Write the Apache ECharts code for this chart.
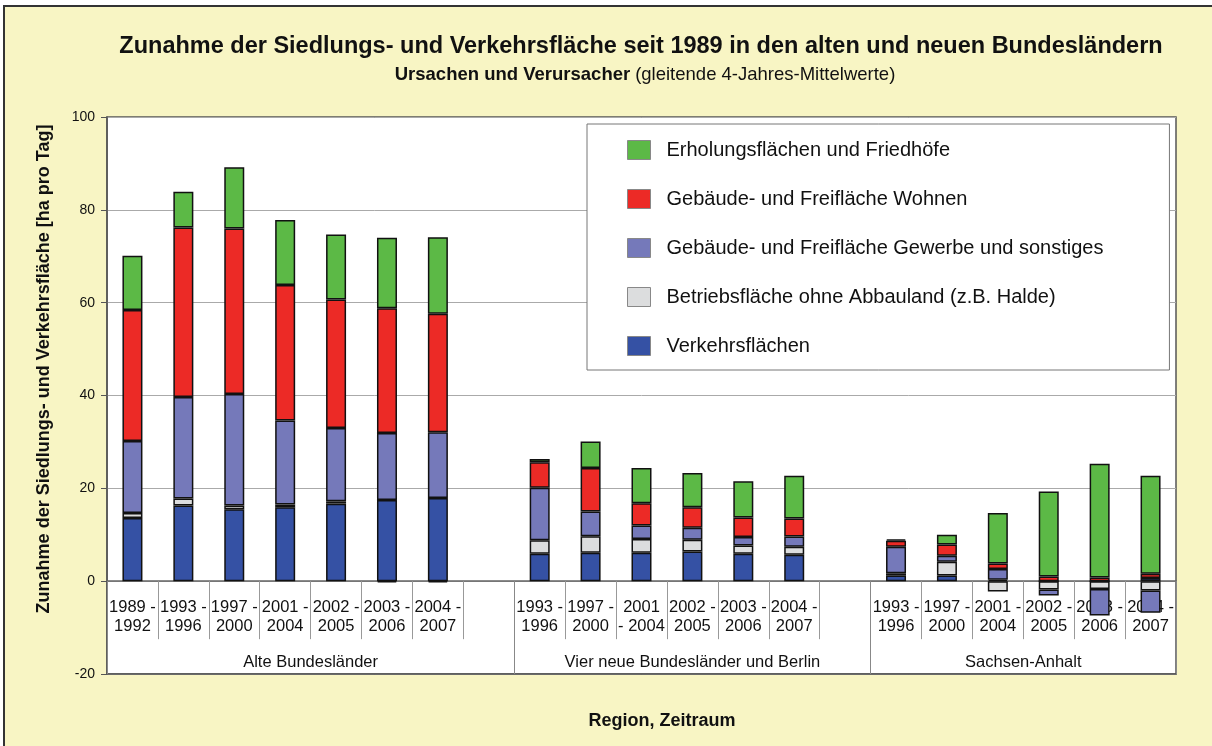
<!DOCTYPE html>
<html>
<head>
<meta charset="utf-8">
<script src="https://cdn.jsdelivr.net/npm/echarts@6/dist/echarts.min.js"></script>
<style>
  html, body { margin: 0; padding: 0; background: #fff; }
  #frame {
    position: absolute; left: 3px; top: 5px; width: 1209px; height: 741px;
    border-left: 2px solid #333; border-top: 2px solid #333;
    box-sizing: border-box; background: #f8f5c4;
  }
  #chart { width: 1207px; height: 739px; }
</style>
</head>
<body>
<div id="frame"><div id="chart"></div></div>
<script>
// Zeiträume je Region ('' = Lücke zwischen den Gruppen)
const categories = [
  '1989 -\n1992', '1993 -\n1996', '1997 -\n2000', '2001 -\n2004', '2002 -\n2005', '2003 -\n2006', '2004 -\n2007', '',
  '1993 -\n1996', '1997 -\n2000', '2001\n- 2004', '2002 -\n2005', '2003 -\n2006', '2004 -\n2007', '',
  '1993 -\n1996', '1997 -\n2000', '2001 -\n2004', '2002 -\n2005', '2003 -\n2006', '2004 -\n2007'
]
const groupNames = ['Alte Bundesländer', 'Vier neue Bundesländer und Berlin', 'Sachsen-Anhalt']
const groupSizes = [8, 7, 6]
const yTicks = { min: -20, max: 100, step: 20 }

// ha pro Tag
const verkehr = [13.6, 16.3, 15.5, 15.9, 16.7, 17.5, 17.9, null, 5.9, 6.1, 6.1, 6.4, 5.9, 5.7, null, 1.2, 1.2, 0.3, 0, 0, 0.7]
const betrieb = [1.1, 1.5, 0.8, 0.6, 0.5, -0.3, -0.3, null, 2.9, 3.6, 3.0, 2.5, 1.8, 1.7, null, 0.5, 3.0, -2.2, -1.8, -1.7, -2.0]
const gewerbe = [15.5, 21.9, 24.0, 18.1, 15.8, 14.4, 14.2, null, 11.3, 5.3, 2.9, 2.6, 1.8, 2.2, null, 5.7, 1.3, 2.3, -1.3, -5.7, -4.8]
const wohnen = [28.2, 36.5, 35.7, 29.2, 27.7, 26.9, 25.5, null, 5.5, 9.4, 4.8, 4.4, 4.2, 3.9, null, 1.3, 2.4, 1.2, 1.0, 0.8, 0.9]
const erholung = [11.7, 7.7, 13.2, 14.0, 14.0, 15.2, 16.5, null, 0.7, 5.7, 7.6, 7.4, 7.8, 9.2, null, 0.3, 2.1, 10.9, 18.3, 24.5, 21.1]

// Gruppenachse in halben Kategorien (Grenzen und Mitten)
const halfCount = categories.length * 2 + 1
const groupAxis = new Array(halfCount).fill('')
const groupEdges = [0]
let start = 0
groupSizes.forEach((n, i) => {
  groupAxis[start * 2 + n] = groupNames[i]
  start += n
  groupEdges.push(start * 2)
})

const font = 'Arial, "Liberation Sans", sans-serif'
const border = { borderColor: '#111', borderWidth: 1.5 }

const gridBox = { left: 102, top: 110, right: 36, bottom: 72 }
const chartHeight = 739
const plotHeight = chartHeight - gridBox.top - gridBox.bottom
// Kategorieachse auf die Nulllinie schieben
const zeroOffset = -plotHeight * (0 - yTicks.min) / (yTicks.max - yTicks.min)

function bar(name, data, color) {
  return {
    name: name,
    type: 'bar',
    stack: 'total',
    data: data,
    barWidth: 20,
    itemStyle: Object.assign({ color: color }, border)
  }
}

const myChart = echarts.init(document.getElementById('chart'))
const option = {
  animation: false,
  textStyle: { fontFamily: font, color: '#111' },
  title: [
    {
      text: 'Zunahme der Siedlungs- und Verkehrsfläche seit 1989 in den alten und neuen Bundesländern',
      left: 636, top: 28, textAlign: 'center', padding: 0,
      textStyle: { fontSize: 23.5, fontWeight: 'bold', fontFamily: font, color: '#111' }
    },
    {
      text: '{b|Ursachen und Verursacher} {n|(gleitende 4-Jahres-Mittelwerte)}',
      left: 640, top: 58, textAlign: 'center', padding: 0,
      textStyle: {
        fontFamily: font,
        fontWeight: 'normal',
        rich: {
          b: { fontSize: 18.5, fontWeight: 'bold', fontFamily: font, color: '#111' },
          n: { fontSize: 18.5, fontWeight: 'normal', fontFamily: font, color: '#111' }
        }
      }
    },
    {
      text: 'Region, Zeitraum',
      left: 657, top: 705, textAlign: 'center', padding: 0,
      textStyle: { fontSize: 18, fontWeight: 'bold', fontFamily: font, color: '#111' }
    }
  ],
  graphic: [{
    type: 'text',
    x: 39, y: 362,
    rotation: Math.PI / 2,
    style: {
      text: 'Zunahme der Siedlungs- und Verkehrsfläche [ha pro Tag]',
      font: 'bold 18px ' + font,
      fill: '#111',
      align: 'center',
      verticalAlign: 'middle'
    }
  }],
  legend: {
    orient: 'vertical',
    left: 582, top: 117,
    data: ['Erholungsflächen und Friedhöfe', 'Gebäude- und Freifläche Wohnen',
      'Gebäude- und Freifläche Gewerbe und sonstiges', 'Betriebsfläche ohne Abbauland (z.B. Halde)', 'Verkehrsflächen'],
    icon: 'rect',
    itemWidth: 23, itemHeight: 19, itemGap: 29,
    padding: [16, 66, 14, 40],
    backgroundColor: '#fff',
    borderColor: '#777', borderWidth: 1,
    itemStyle: { borderColor: '#888', borderWidth: 1 },
    textStyle: { fontSize: 20, fontFamily: font, color: '#111', padding: [0, 0, 0, 11] }
  },
  grid: Object.assign({
    show: true, backgroundColor: '#fff', borderColor: '#555', borderWidth: 1.5
  }, gridBox),
  xAxis: [
    {
      type: 'category',
      position: 'bottom',
      offset: zeroOffset,
      data: categories,
      axisLine: { onZero: false, lineStyle: { color: '#666', width: 1.5 } },
      axisTick: { show: true, interval: 0, length: 58, lineStyle: { color: '#999', width: 1 } },
      axisLabel: { interval: 0, fontSize: 16.5, lineHeight: 19, margin: 17, color: '#111', fontFamily: font }
    },
    {
      type: 'category',
      position: 'bottom',
      boundaryGap: false,
      data: groupAxis,
      axisLine: { onZero: false, lineStyle: { color: '#555', width: 1.5 } },
      axisTick: {
        show: true, inside: true, length: 93,
        interval: (idx) => groupEdges.indexOf(idx) >= 0,
        lineStyle: { color: '#888' }
      },
      axisLabel: { inside: true, interval: 0, fontSize: 16.5, margin: 3, color: '#111', fontFamily: font }
    }
  ],
  yAxis: {
    type: 'value',
    min: yTicks.min, max: yTicks.max, interval: yTicks.step,
    axisLine: { show: true, lineStyle: { color: '#555', width: 1.5 } },
    axisTick: { show: true, length: 6, lineStyle: { color: '#555' } },
    axisLabel: { fontSize: 14, margin: 12, color: '#111', fontFamily: font },
    splitLine: { lineStyle: { color: '#aaa' } }
  },
  series: [
    bar('Verkehrsflächen', verkehr, '#3551a4'),
    bar('Betriebsfläche ohne Abbauland (z.B. Halde)', betrieb, '#dcddde'),
    bar('Gebäude- und Freifläche Gewerbe und sonstiges', gewerbe, '#7579ba'),
    bar('Gebäude- und Freifläche Wohnen', wohnen, '#ec2a26'),
    bar('Erholungsflächen und Friedhöfe', erholung, '#5cb946')
  ]
}
myChart.setOption(option, true)
</script>
</body>
</html>
